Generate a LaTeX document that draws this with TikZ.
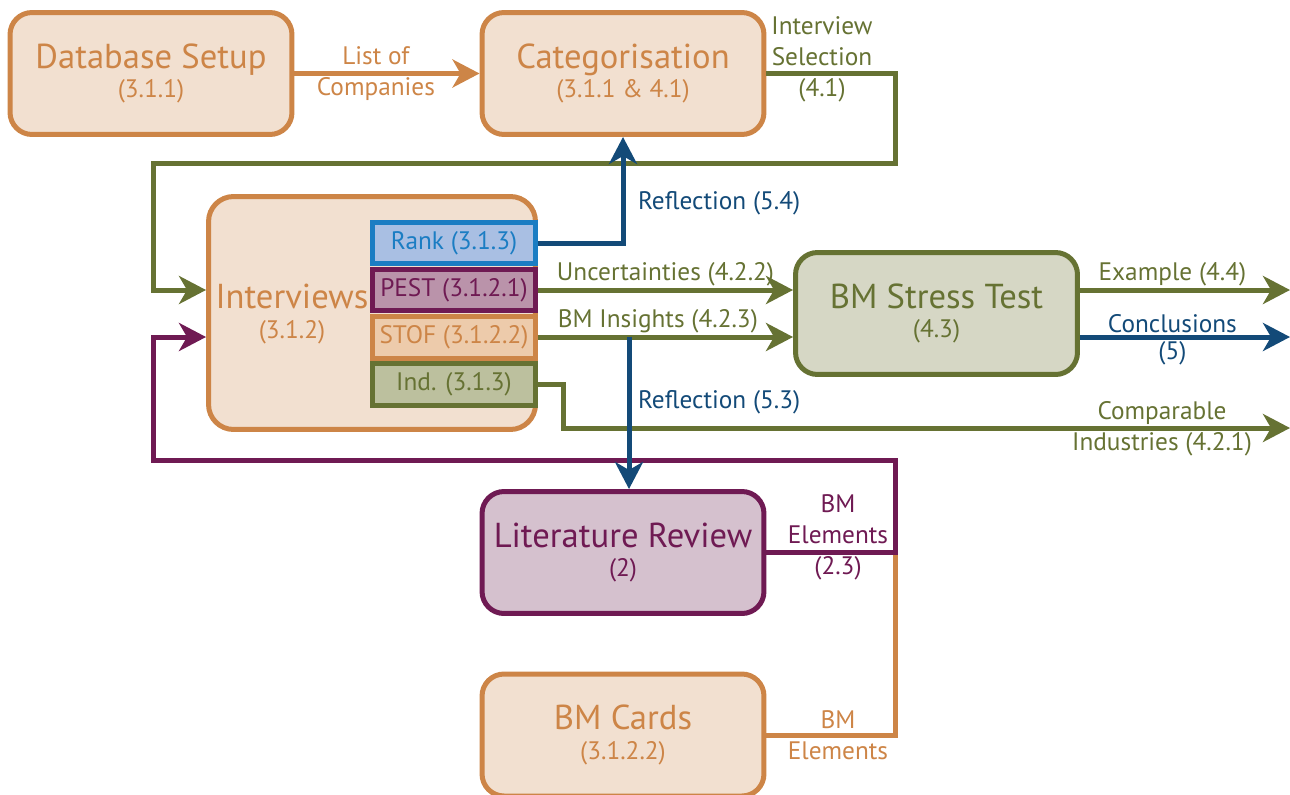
\documentclass[tikz,border=0pt]{standalone}
\usepackage{fontspec}
\setmainfont{PT Sans}
\usepackage{tikz}
\usetikzlibrary{arrows.meta,positioning}
\definecolor{orng}{RGB}{205,133,71}
\definecolor{orngfill}{RGB}{242,224,208}
\definecolor{stoffill}{RGB}{237,203,171}
\definecolor{grn}{RGB}{102,114,51}
\definecolor{grnfill}{RGB}{214,215,197}
\definecolor{indfill}{RGB}{188,192,158}
\definecolor{purp}{RGB}{111,26,83}
\definecolor{purpfill}{RGB}{213,193,206}
\definecolor{pestfill}{RGB}{186,147,170}
\definecolor{blu}{RGB}{19,74,120}
\definecolor{rankblu}{RGB}{27,125,195}
\definecolor{rankfill}{RGB}{169,191,227}
\tikzstyle{stage} = [rectangle, rounded corners=0.44cm, line width=0.1cm, minimum width=5.64cm, minimum height=2.44cm, align=center, inner sep=0pt, font=\fontsize{14.4}{17}\selectfont]
\tikzstyle{part} = [rectangle, line width=0.1cm, minimum width=3.26cm, minimum height=0.84cm, inner sep=0pt, font=\fontsize{14.4}{17}\selectfont]
\tikzstyle{lbl} = [align=center, inner sep=1pt, font=\fontsize{14.4}{17.6}\selectfont]
\tikzstyle{arrow} = [-{Stealth[length=5.4mm, width=5.6mm, inset=1.6mm]}, line width=0.1cm]
\tikzstyle{link} = [line width=0.1cm]
\newcommand{\stagetext}[2]{{\fontsize{19.7}{20}\selectfont #1}\\#2}
\begin{document}
\begin{tikzpicture}[x=0.02cm, y=-0.02cm]
\useasboundingbox (0,0) rectangle (1290,794);
% stages
\node[stage, draw=orng, fill=orngfill, text=orng] (db) at (151,73.5) {\stagetext{Database Setup}{(3.1.1)}};
\node[stage, draw=orng, fill=orngfill, text=orng] (cat) at (623,73.5) {\stagetext{Categorisation}{(3.1.1 \& 4.1)}};
\node[stage, draw=orng, fill=orngfill, rounded corners=0.5cm, minimum width=6.54cm, minimum height=4.66cm] (intv) at (372,313) {};
\node[lbl, text=orng, font=\fontsize{14.4}{17}\selectfont] (intvtext) at (292,314) {\stagetext{Interviews}{(3.1.2)}};
\node[stage, draw=grn, fill=grnfill, text=grn] (bmst) at (936.5,313.5) {\stagetext{BM Stress Test}{(4.3)}};
\node[stage, draw=purp, fill=purpfill, text=purp] (lr) at (623,552.5) {\stagetext{Literature Review}{(2)}};
\node[stage, draw=orng, fill=orngfill, text=orng] (cards) at (623,735) {\stagetext{BM Cards}{(3.1.2.2)}};
% parts of the interviews
\node[part, draw=rankblu, fill=rankfill, text=rankblu] (rank) at (454,243) {Rank (3.1.3)};
\node[part, draw=purp, fill=pestfill, text=purp] (pest) at (454,290) {PEST (3.1.2.1)};
\node[part, draw=orng, fill=stoffill, text=orng] (stof) at (454,337) {STOF (3.1.2.2)};
\node[part, draw=grn, fill=indfill, text=grn] (ind) at (454,384) {Ind. (3.1.3)};
% bends and free ends
\coordinate (selturn) at (895,163);
\coordinate (selin) at (153,290);
\coordinate (elturn) at (895,460);
\coordinate (elin) at (153,337);
\coordinate (insight) at (629,337);
\coordinate (indturn) at (563,428);
\coordinate (indout) at (1290,428);
\coordinate (exout) at (1290,290);
\coordinate (conout) at (1290,337);
% connectors
\draw[arrow, orng] (db) -- node[lbl, text=orng, pos=0.44] {List of\\Companies} (cat);
\draw[arrow, grn] (cat.east) -| (selturn) -| (selin) -- (intv.west |- pest);
\node[lbl, text=grn] (sellbl) at (822,59) {Interview\\Selection\\(4.1)};
\draw[link, orng] (cards.east) -| (lr.east -| elturn);
\draw[arrow, purp] (lr.east) -| (elturn) -| (elin) -- (intv.west |- stof);
\node[lbl, text=purp] (ellbl) at (838,537) {BM\\Elements\\(2.3)};
\node[lbl, text=orng] (cardlbl) at (838,735) {BM\\Elements};
\draw[arrow, grn] (pest.east) -- node[lbl, above, text=grn] {Uncertainties (4.2.2)} (pest.east -| bmst.west);
\draw[arrow, grn] (stof.east) -- node[lbl, above, text=grn, pos=0.47] {BM Insights (4.2.3)} (stof.east -| bmst.west);
\draw[arrow, grn] (ind.east) -| (indturn) -- (indout);
\node[lbl, text=grn] (indlbl) at (1162,429) {Comparable\\Industries (4.2.1)};
\draw[arrow, grn] (bmst.east |- pest) -- node[lbl, above, text=grn, pos=0.44] {Example (4.4)} (exout);
\draw[arrow, blu] (bmst.east |- stof) -- node[lbl, above, text=blu, pos=0.44] {Conclusions} node[lbl, below, text=blu, pos=0.44] {(5)} (conout);
\draw[arrow, blu] (rank.east) -| (cat.south);
\node[lbl, text=blu, anchor=west] (refl54) at (636,203) {Reflection (5.4)};
\draw[arrow, blu] (insight) -- (insight |- lr.north);
\node[lbl, text=blu, anchor=west] (refl53) at (636,402) {Reflection (5.3)};
\end{tikzpicture}
\end{document}
